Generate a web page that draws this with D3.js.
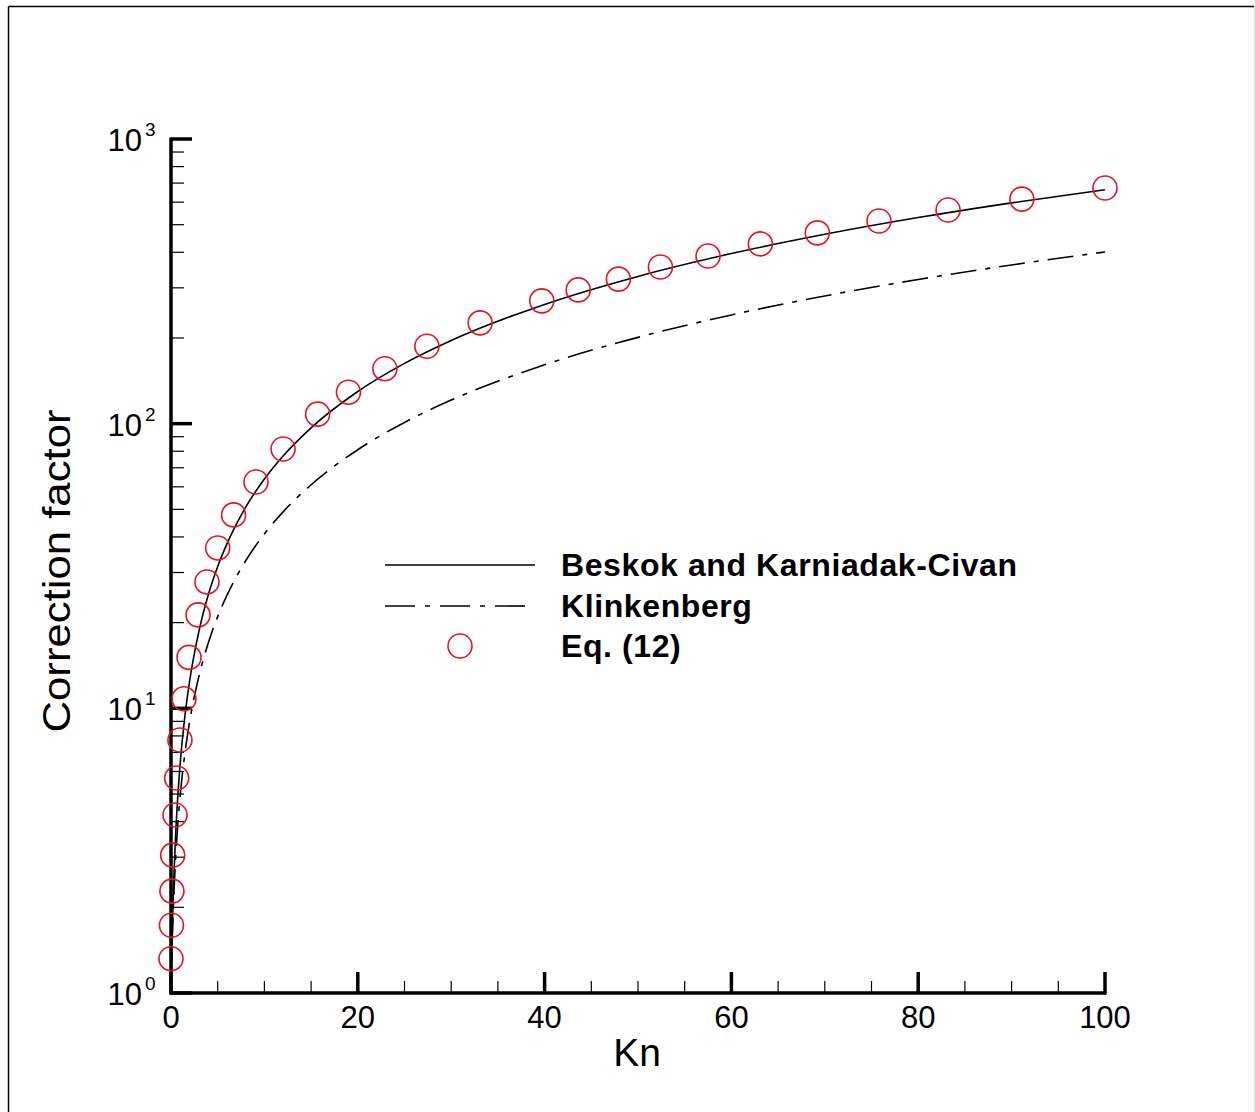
<!DOCTYPE html>
<html>
<head>
<meta charset="utf-8">
<script src="https://cdn.jsdelivr.net/npm/d3@7"></script>
<style>
  html, body { margin: 0; padding: 0; background: #fff; }
  svg { display: block; }
  text { font-family: "Liberation Sans", Arial, Helvetica, sans-serif; fill: #000; }
</style>
</head>
<body>
<svg id="chart" width="1255" height="1112"></svg>
<script>
// Knudsen numbers sampled along the two model curves
const curveKn = [0, 0.05, 0.1, 0.2, 0.3, 0.5, 0.75, 1, 1.5, 2, 3, 4, 5, 6, 8, 10, 12, 15, 20, 25, 30, 40, 50, 60, 70, 80, 90, 100];
// Beskok and Karniadakis correction factor (Civan coefficient)
const beskokValues = [1, 1.24, 1.49, 2.0, 2.53, 3.62, 5.03, 6.48, 9.46, 12.5, 18.7, 25.1, 31.5, 37.9, 50.9, 63.9, 77.0, 96.7, 129.7, 162.8, 195.9, 262.4, 329.1, 395.8, 462.6, 529.6, 596.5, 663];
// Klinkenberg correction factor
const klinkenbergValues = [1, 1.2, 1.4, 1.8, 2.2, 3, 4, 5, 7, 9, 13, 17, 21, 25, 33, 41, 49, 61, 81, 101, 121, 161, 201, 241, 281, 321, 361, 401];
// Eq. (12) points
const eqKn = [0, 0.05, 0.1, 0.18, 0.43, 0.61, 0.96, 1.39, 1.93, 2.9, 3.85, 5.0, 6.7, 9.1, 12.0, 15.7, 19.0, 22.9, 27.4, 33.1, 39.7, 43.6, 47.9, 52.4, 57.5, 63.1, 69.2, 75.8, 83.2, 91.1, 100];
const eqValues = [1.32, 1.73, 2.28, 3.05, 4.22, 5.69, 7.74, 10.8, 15.1, 21.3, 27.8, 36.6, 47.8, 62.4, 81.5, 108, 129, 156, 187, 226, 270, 295, 322, 355, 388, 428, 468, 515, 563, 615, 673];

const xMajorTicks = [0, 20, 40, 60, 80, 100];
const xMinorTicks = [5, 10, 15, 25, 30, 35, 45, 50, 55, 65, 70, 75, 85, 90, 95];
const yMajorExponents = [0, 1, 2, 3];
const legendLabels = ["Beskok and Karniadak-Civan", "Klinkenberg", "Eq. (12)"];

const svg = d3.select("#chart");

// outer frame
svg.append("line").attr("x1", 8.5).attr("y1", 6.5).attr("x2", 1254).attr("y2", 6.5)
  .attr("stroke", "#000").attr("stroke-width", 1.5);
svg.append("line").attr("x1", 8.5).attr("y1", 6.5).attr("x2", 8.5).attr("y2", 1112)
  .attr("stroke", "#000").attr("stroke-width", 1.5);
svg.append("line").attr("x1", 1254.5).attr("y1", 6).attr("x2", 1254.5).attr("y2", 1112)
  .attr("stroke", "#e6e6e6").attr("stroke-width", 1);

const x = d3.scaleLinear().domain([0, 100]).range([171, 1105]);
const y = d3.scaleLog().domain([1, 1000]).range([993, 139]);

// curves
const line = d3.line().x(d => x(d[0])).y(d => y(d[1])).curve(d3.curveMonotoneX);

svg.append("path")
  .datum(curveKn.map((k, i) => [k, klinkenbergValues[i]]))
  .attr("d", line).attr("fill", "none").attr("stroke", "#000")
  .attr("stroke-width", 1.6).attr("stroke-dasharray", "26 9 5 9");

svg.append("path")
  .datum(curveKn.map((k, i) => [k, beskokValues[i]]))
  .attr("d", line).attr("fill", "none").attr("stroke", "#000")
  .attr("stroke-width", 1.6);

// axes
const axisG = svg.append("g");
axisG.append("line").attr("x1", x(0)).attr("x2", x(0)).attr("y1", y(1000) - 1.5).attr("y2", y(1) + 1.5)
  .attr("stroke", "#000").attr("stroke-width", 3.5);
axisG.append("line").attr("x1", x(0) - 1.5).attr("x2", x(100) + 1.5).attr("y1", y(1)).attr("y2", y(1))
  .attr("stroke", "#000").attr("stroke-width", 3.5);

// x ticks
xMajorTicks.forEach(t => {
  axisG.append("line").attr("x1", x(t)).attr("x2", x(t)).attr("y1", y(1)).attr("y2", y(1) - 21)
    .attr("stroke", "#000").attr("stroke-width", 3.5);
  axisG.append("text").attr("x", x(t)).attr("y", 1028).attr("text-anchor", "middle")
    .attr("font-size", 31).text(t);
});
xMinorTicks.forEach(t => {
  axisG.append("line").attr("x1", x(t)).attr("x2", x(t)).attr("y1", y(1)).attr("y2", y(1) - 12)
    .attr("stroke", "#000").attr("stroke-width", 1.2);
});

// y ticks
yMajorExponents.forEach(e => {
  const v = Math.pow(10, e);
  axisG.append("line").attr("x1", x(0)).attr("x2", x(0) + 21).attr("y1", y(v)).attr("y2", y(v))
    .attr("stroke", "#000").attr("stroke-width", 3.5);
  axisG.append("text").attr("x", 142).attr("y", y(v) + 12).attr("text-anchor", "end")
    .attr("font-size", 31).text("10");
  axisG.append("text").attr("x", 145).attr("y", y(v) - 3).attr("text-anchor", "start")
    .attr("font-size", 19).text(e);
  if (e < 3) {
    for (let m = 2; m <= 9; m++) {
      axisG.append("line").attr("x1", x(0)).attr("x2", x(0) + 13).attr("y1", y(m * v)).attr("y2", y(m * v))
        .attr("stroke", "#000").attr("stroke-width", 1.2);
    }
  }
});

// axis titles
svg.append("text").attr("x", 637).attr("y", 1066).attr("text-anchor", "middle")
  .attr("font-size", 39).text("Kn");
svg.append("text").attr("transform", "translate(70,571) rotate(-90)").attr("text-anchor", "middle")
  .attr("font-size", 39).attr("textLength", 323).attr("lengthAdjust", "spacingAndGlyphs")
  .text("Correction factor");

// Eq. (12) markers
svg.append("g").selectAll("circle")
  .data(eqKn.map((k, i) => [k, eqValues[i]]))
  .join("circle")
  .attr("cx", d => x(d[0])).attr("cy", d => y(d[1])).attr("r", 12)
  .attr("fill", "none").attr("stroke", "#e8141e").attr("stroke-width", 1.6);

// legend
const lg = svg.append("g");
lg.append("line").attr("x1", 385).attr("x2", 535).attr("y1", 565).attr("y2", 565)
  .attr("stroke", "#000").attr("stroke-width", 1.6);
lg.append("line").attr("x1", 385).attr("x2", 526).attr("y1", 606).attr("y2", 606)
  .attr("stroke", "#000").attr("stroke-width", 1.6).attr("stroke-dasharray", "30 10 5 10");
lg.append("circle").attr("cx", 460).attr("cy", 646).attr("r", 12)
  .attr("fill", "none").attr("stroke", "#e8141e").attr("stroke-width", 1.6);
legendLabels.forEach((t, i) => {
  lg.append("text").attr("x", 561).attr("y", 576 + i * 40.5)
    .attr("font-size", 32).attr("font-weight", "bold").attr("letter-spacing", 0.6).text(t);
});
</script>
</body>
</html>
